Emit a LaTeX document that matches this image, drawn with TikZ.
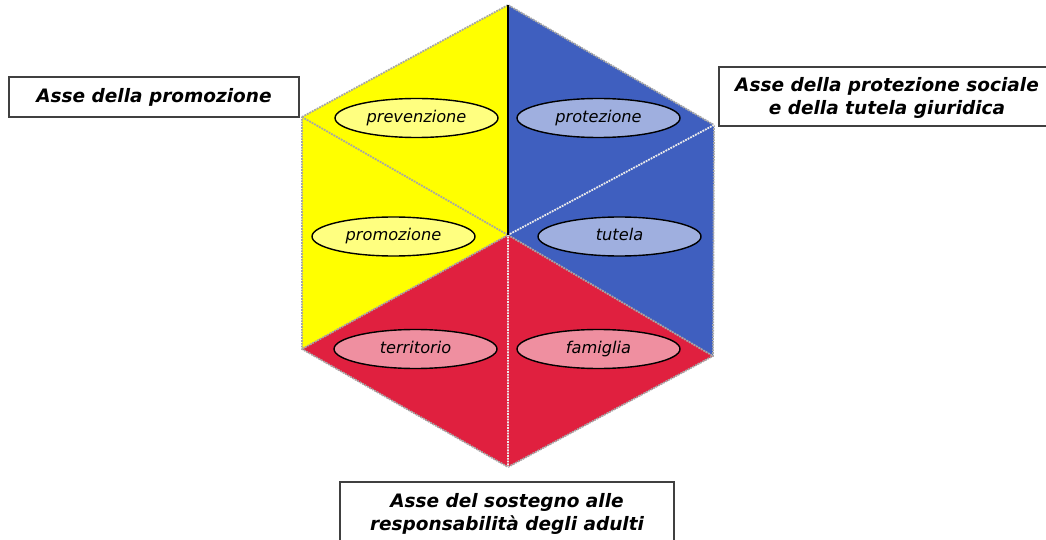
\documentclass[tikz,border=0pt]{standalone}
\usepackage{fontspec}
\setmainfont{DejaVu Sans}
\definecolor{hexyellow}{HTML}{FFFF00}
\definecolor{hexblue}{HTML}{3F5FBF}
\definecolor{hexred}{HTML}{E0203F}
\definecolor{lightyellow}{HTML}{FFFF80}
\definecolor{lightblue}{HTML}{9FAFDF}
\definecolor{lightred}{HTML}{EF8FA0}
\tikzset{
  edgeline/.style={draw=gray!70,line width=1.8pt,densely dotted},
  palewhite/.style={draw=white!85!gray,line width=1.8pt,densely dotted},
  oval/.style={ellipse,draw=black,line width=1.4pt,minimum width=163pt,minimum height=39pt,inner sep=0pt,font=\fontsize{16.2}{18}\selectfont\itshape},
  axisbox/.style={draw=black!75,fill=white,line width=1.4pt,inner sep=0pt,align=center,font=\fontsize{18.5}{23}\selectfont\bfseries\itshape},
}
\usetikzlibrary{shapes.geometric}
\begin{document}
\begin{tikzpicture}[x=1pt,y=-1pt]
\clip (0,0) rectangle (1046,540);
\coordinate (T) at (508,5);
\coordinate (UR) at (714,125);
\coordinate (LR) at (713,356);
\coordinate (B) at (508,467);
\coordinate (LL) at (302,349);
\coordinate (UL) at (302,117);
\coordinate (C) at (508,235);
\fill[hexyellow] (T) -- (C) -- (LL) -- (UL) -- cycle;
\fill[hexblue] (T) -- (UR) -- (LR) -- (C) -- cycle;
\fill[hexred] (C) -- (LR) -- (B) -- (LL) -- cycle;
\draw[edgeline] (UL) -- (T) -- (UR) -- (LR) -- (B) -- (LL) -- (UL);
\draw[edgeline] (UL) -- (C) -- (LL);
\draw[edgeline] (C) -- (LR);
\draw[palewhite] (UR) -- (C) -- (B);
\draw[black,line width=1.5pt] (T) -- (C);
\node[oval,fill=lightyellow] (prev) at (416.5,118) {\raisebox{3.5pt}{prevenzione}};
\node[oval,fill=lightblue] (prot) at (598.5,118) {\raisebox{3.5pt}{protezione}};
\node[oval,fill=lightyellow] (prom) at (393.5,236.5) {\raisebox{3.5pt}{promozione}};
\node[oval,fill=lightblue] (tute) at (619.5,236.5) {\raisebox{3.5pt}{tutela}};
\node[oval,fill=lightred] (terr) at (415.5,349) {\raisebox{3.5pt}{territorio}};
\node[oval,fill=lightred] (fami) at (598.5,349) {\raisebox{3.5pt}{famiglia}};
\node[axisbox,minimum width=290pt,minimum height=40pt] (a1) at (154,97) {\raisebox{-1pt}{Asse della promozione}};
\node[axisbox,minimum width=336pt,minimum height=59pt] (a2) at (887,96.5) {\rule{0pt}{16pt}Asse della protezione sociale\\e della tutela giuridica};
\node[axisbox,minimum width=334pt,minimum height=62pt] (a3) at (507,513) {\rule{0pt}{16pt}Asse del sostegno alle\\responsabilità degli adulti};
\end{tikzpicture}
\end{document}
